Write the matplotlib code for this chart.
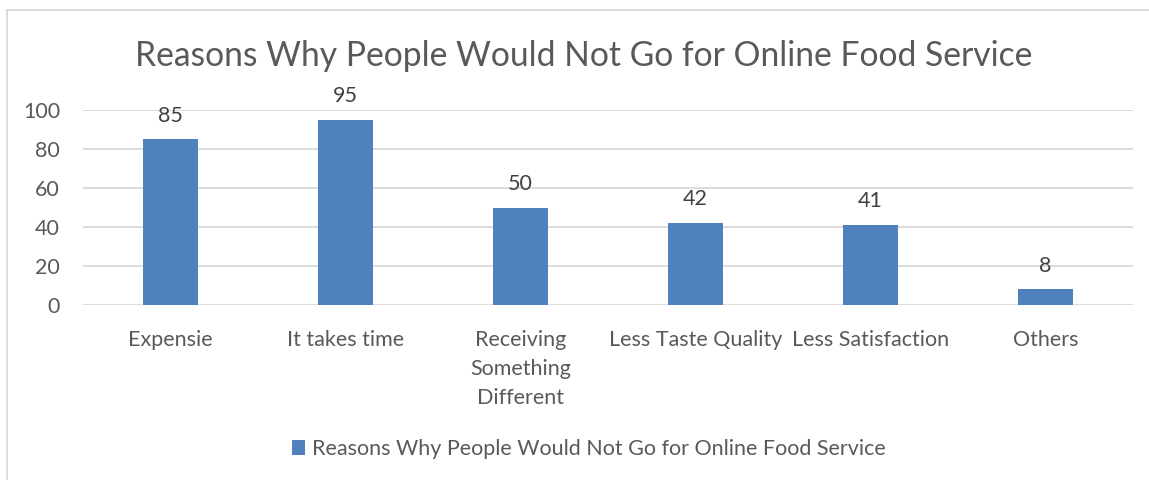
import matplotlib.pyplot as plt
from matplotlib.lines import Line2D
from matplotlib.patches import Patch

# survey counts per reason
reasons = ["Expensie", "It takes time", "Receiving\nSomething\nDifferent",
           "Less Taste Quality", "Less Satisfaction", "Others"]
counts = [85, 95, 50, 42, 41, 8]
yticks = [0, 20, 40, 60, 80, 100]
series_name = "Reasons Why People Would Not Go for Online Food Service"

bar_color = "#4F81BD"
text_gray = "#595959"
grid_gray = "#D9D9D9"

plt.rcParams["font.family"] = ["Lato", "DejaVu Sans"]

fig = plt.figure(figsize=(11.49, 4.8), dpi=100)
ax = fig.add_axes([83 / 1149, 1 - 305 / 480, 1050 / 1149, 195 / 480])

x = range(len(reasons))
ax.bar(x, counts, width=0.314, color=bar_color, zorder=3)
for i, v in zip(x, counts):
    ax.text(i, v + 7, str(v), ha="center", va="bottom", fontsize=15.5, color="#404040")

ax.set_xlim(-0.5, len(reasons) - 0.5)
ax.set_ylim(0, 100)
ax.set_yticks(yticks)
ax.set_xticks(list(x))
ax.set_xticklabels(reasons, fontsize=15.5, color=text_gray, linespacing=1.55, va="top")
ax.tick_params(axis="y", labelsize=15.5, labelcolor=text_gray, length=0, pad=16.5)
ax.tick_params(axis="x", length=0, pad=18)
ax.grid(axis="y", color=grid_gray, linewidth=1.3, zorder=0)
for s in ax.spines.values():
    s.set_visible(False)

fig.text(584 / 1149, 1 - 56 / 480, series_name, ha="center", va="center",
         fontsize=24.2, color=text_gray)

handle = Patch(facecolor=bar_color)
fig.legend([handle], [series_name], loc="center", bbox_to_anchor=(589 / 1149, 1 - 449 / 480),
           frameon=False, fontsize=15.5, labelcolor=text_gray,
           handlelength=0.6, handleheight=0.7, handletextpad=0.3)

# chart frame, top and left edges
fig.add_artist(Line2D([7 / 1149, 1], [1 - 10 / 480, 1 - 10 / 480], color=grid_gray, lw=1.3))
fig.add_artist(Line2D([7 / 1149, 7 / 1149], [0, 1 - 10 / 480], color=grid_gray, lw=1.3))

fig.savefig("out.png", dpi=100)
